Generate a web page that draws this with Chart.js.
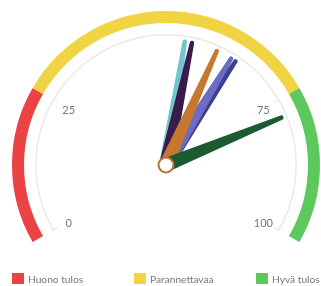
<!DOCTYPE html>
<html>
<head>
<meta charset="utf-8">
<script src="https://cdn.jsdelivr.net/npm/chart.js@4"></script>
<style>
  html, body { margin: 0; padding: 0; background: #fff; }
  #wrap { position: relative; width: 321px; height: 286px; overflow: hidden; }
  #legend { position: absolute; left: 0; top: 272px; width: 321px; height: 14px; font-family: Lato, "Noto Sans", sans-serif; font-size: 10.2px; color: #777; }
  .item { position: absolute; top: 0; height: 14px; line-height: 14px; white-space: nowrap; }
  .box { position: absolute; left: 0; top: 1px; width: 12px; height: 11px; }
  .txt { position: absolute; left: 16px; top: 0; }
</style>
</head>
<body>
<div id="wrap">
  <canvas id="c" width="321" height="286"></canvas>
  <div id="legend"></div>
</div>
<script>
const bandLabels = ['Huono tulos', 'Parannettavaa', 'Hyvä tulos'];
const bandValues = [25, 50, 25];
const bandColors = ['#e94343', '#f1d444', '#5dc95d'];
const tickValues = [0, 25, 75, 100];
const needleValues = [53.6, 55, 64.1, 63.1, 60, 78.2];
const needleColors = ['#72c6cb', '#3a1b4e', '#3b4092', '#6b6cc2', '#c7782f', '#1b5b2f'];

const gaugeMin = 0;
const gaugeMax = bandValues.reduce((a, b) => a + b, 0);

const gaugePlugin = {
  id: 'gauge',
  afterDatasetsDraw(chart) {
    const ctx = chart.ctx;
    const arcs = chart.getDatasetMeta(0).data;
    const first = arcs[0], last = arcs[arcs.length - 1];
    const cx = first.x, cy = first.y, R = first.outerRadius;
    const a0 = first.startAngle, a1 = last.endAngle;
    const angleOf = v => a0 + (v - gaugeMin) / (gaugeMax - gaugeMin) * (a1 - a0);

    // inner thin gray arc
    const rg = R * 0.845;
    ctx.save();
    ctx.strokeStyle = '#e9e9e9';
    ctx.lineWidth = 1.5;
    ctx.beginPath();
    ctx.arc(cx, cy, rg, a0, a1);
    ctx.stroke();

    // ticks and labels
    ctx.font = '11px Lato, "Noto Sans", sans-serif';
    ctx.fillStyle = '#777';
    ctx.textAlign = 'center';
    ctx.textBaseline = 'middle';
    tickValues.forEach(v => {
      const a = angleOf(v);
      ctx.strokeStyle = '#e2e2e2';
      ctx.lineWidth = 1;
      ctx.beginPath();
      ctx.moveTo(cx + Math.cos(a) * rg, cy + Math.sin(a) * rg);
      ctx.lineTo(cx + Math.cos(a) * (rg - 5), cy + Math.sin(a) * (rg - 5));
      ctx.stroke();
      const rl = R * 0.73;
      ctx.fillText(String(v), cx + Math.cos(a) * rl, cy + Math.sin(a) * rl + 2);
    });

    // needles
    const len = R * 0.81;
    needleValues.forEach((v, i) => {
      const a = angleOf(v);
      const ux = Math.cos(a), uy = Math.sin(a);
      const px = -uy, py = ux;
      const wb = 7, wt = 2.2;
      const tx = cx + ux * len, ty = cy + uy * len;
      ctx.fillStyle = needleColors[i];
      ctx.beginPath();
      ctx.moveTo(cx + px * wb, cy + py * wb);
      ctx.lineTo(tx + px * wt, ty + py * wt);
      ctx.arc(tx, ty, wt, a + Math.PI / 2, a - Math.PI / 2, true);
      ctx.lineTo(cx - px * wb, cy - py * wb);
      ctx.closePath();
      ctx.fill();
    });

    // hub
    ctx.beginPath();
    ctx.arc(cx, cy, 7.5, 0, Math.PI * 2);
    ctx.fillStyle = '#fff';
    ctx.fill();
    ctx.lineWidth = 2;
    ctx.strokeStyle = '#b8723a';
    ctx.stroke();
    ctx.restore();
  }
};

const chart = new Chart(document.getElementById('c'), {
  type: 'doughnut',
  data: {
    labels: bandLabels,
    datasets: [{
      data: bandValues,
      backgroundColor: bandColors,
      borderWidth: 0
    }]
  },
  options: {
    responsive: false,
    animation: false,
    circumference: 240,
    rotation: -120,
    cutout: '92.2%',
    layout: { padding: { left: 12, right: 1, top: 11, bottom: 44 } },
    plugins: {
      legend: { display: false },
      tooltip: { enabled: false }
    }
  },
  plugins: [gaugePlugin]
});

// HTML legend built from the chart's own legend items
const legendEl = document.getElementById('legend');
const items = Chart.overrides.doughnut.plugins.legend.labels.generateLabels(chart);
const starts = [12, 134, 256];
items.forEach((it, i) => {
  const d = document.createElement('div');
  d.className = 'item';
  d.style.left = starts[i] + 'px';
  const b = document.createElement('span');
  b.className = 'box';
  b.style.background = it.fillStyle;
  const t = document.createElement('span');
  t.className = 'txt';
  t.textContent = it.text;
  d.appendChild(b); d.appendChild(t);
  legendEl.appendChild(d);
});
</script>
</body>
</html>
